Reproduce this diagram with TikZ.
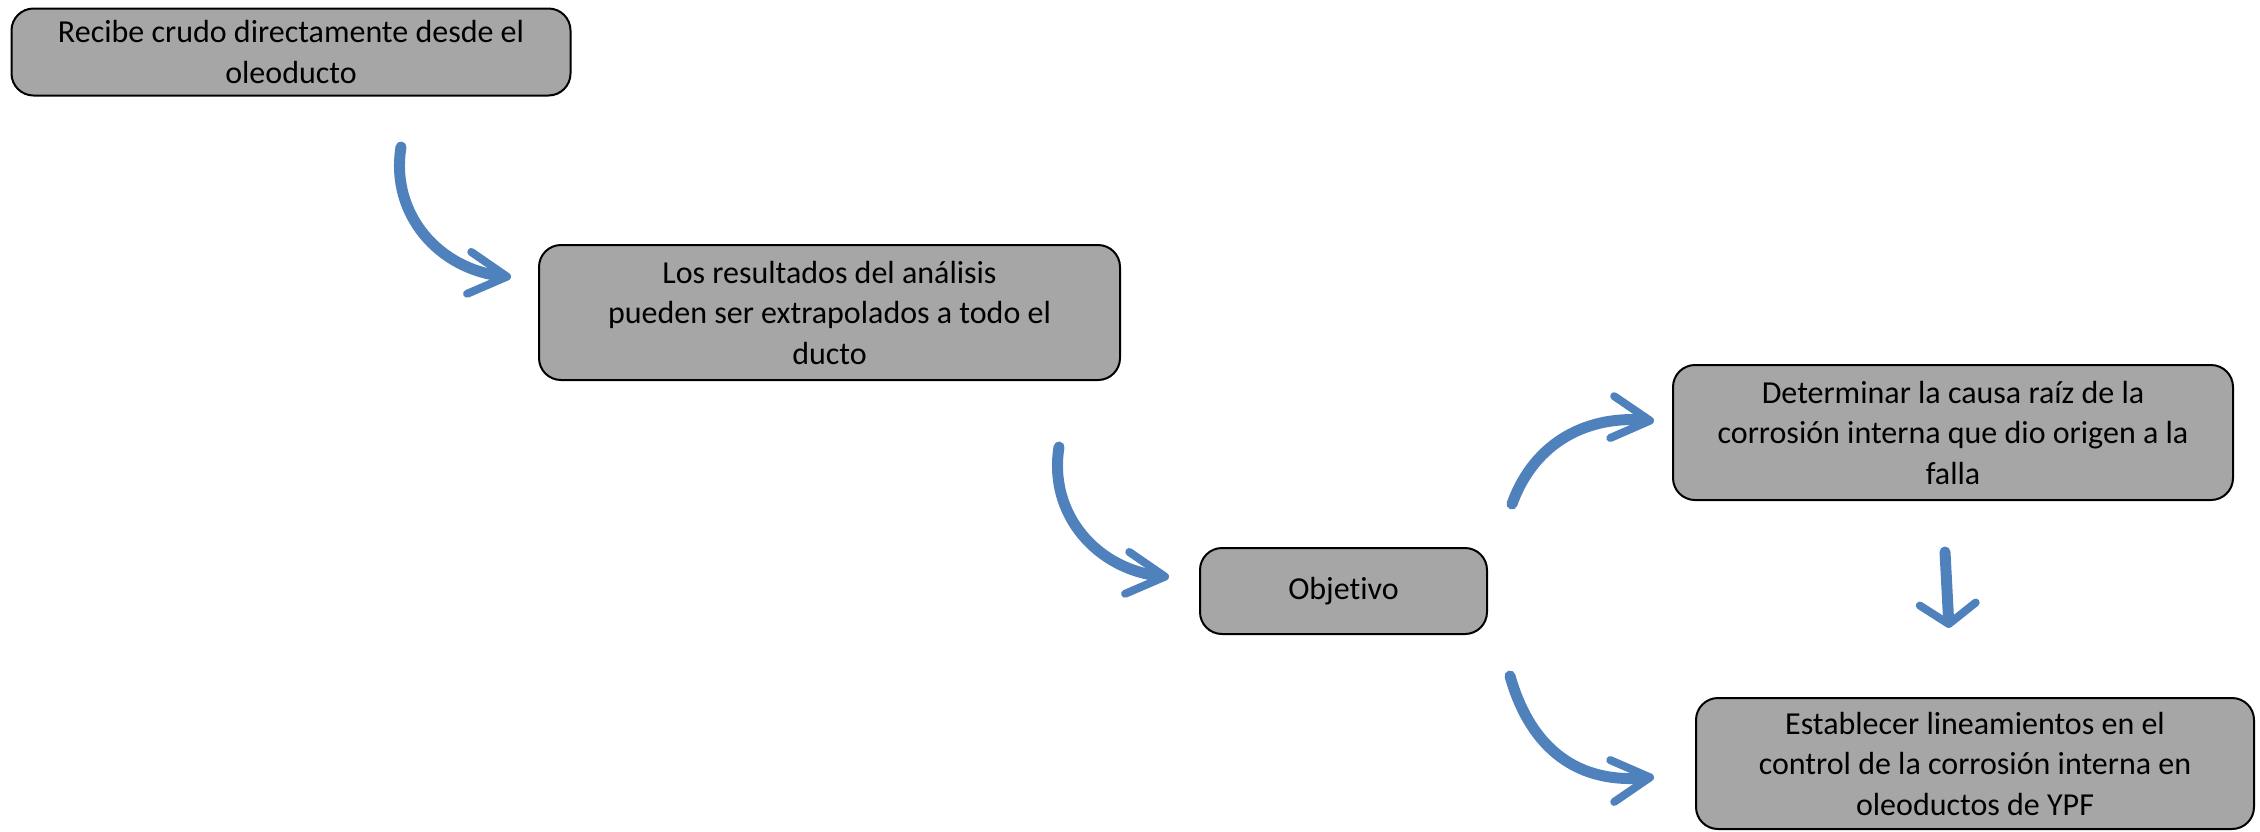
\documentclass[tikz,border=0pt]{standalone}
\usepackage{fontspec}
\setmainfont[Ligatures=NoCommon]{Carlito}
\usetikzlibrary{arrows.meta}
\definecolor{boxgray}{HTML}{A6A6A6}
\definecolor{arrblue}{HTML}{4F81BD}
\begin{document}
\begin{tikzpicture}[x=1pt,y=-1pt,
  box/.style={draw=black, line width=2pt, fill=boxgray, rounded corners=22pt,
    align=center, inner sep=0pt, font=\fontsize{32}{40.5}\selectfont},
  flow/.style={draw=arrblue, line width=11pt, line cap=round,
    -{Straight Barb[length=38pt,width=42pt,line width=8pt,round]}}
]
\useasboundingbox (0,0) rectangle (2260,831);
\node[box, minimum width=559pt, minimum height=87pt] (b1) at (291,52)
  {Recibe crudo directamente desde el\\oleoducto};
\node[box, minimum width=581pt, minimum height=135pt] (b2) at (829.5,312.5)
  {Los resultados del análisis\\pueden ser extrapolados a todo el\\ducto};
\node[box, minimum width=287pt, minimum height=86pt] (b3) at (1343.5,591)
  {Objetivo};
\node[box, minimum width=560pt, minimum height=135pt] (b4) at (1953,432.5)
  {Determinar la causa raíz de la\\corrosión interna que dio origen a la\\falla};
\node[box, minimum width=558pt, minimum height=131pt] (b5) at (1975,763.5)
  {Establecer lineamientos en el\\control de la corrosión interna en\\oleoductos de YPF};

\coordinate (a1s) at (401,147);
\coordinate (a1e) at (511,277);
\coordinate (a2s) at (1059,447);
\coordinate (a2e) at (1169,577);
\coordinate (a3s) at (1512,504);
\coordinate (a3e) at (1654,421);
\coordinate (a4s) at (1510,676);
\coordinate (a4e) at (1654,777);
\coordinate (a5s) at (1945,552);
\coordinate (a5e) at (1949,628);

\draw[flow] (a1s) .. controls (390,215) and (440,270) .. (a1e);
\draw[flow] (a2s) .. controls (1048,515) and (1098,570) .. (a2e);
\draw[flow] (a3s) .. controls (1535,440) and (1590,415) .. (a3e);
\draw[flow] (a4s) .. controls (1528,740) and (1570,785) .. (a4e);
\draw[flow, -{Straight Barb[length=20pt,width=56pt,line width=8pt,round]}] (a5s) -- (a5e);
\end{tikzpicture}
\end{document}
